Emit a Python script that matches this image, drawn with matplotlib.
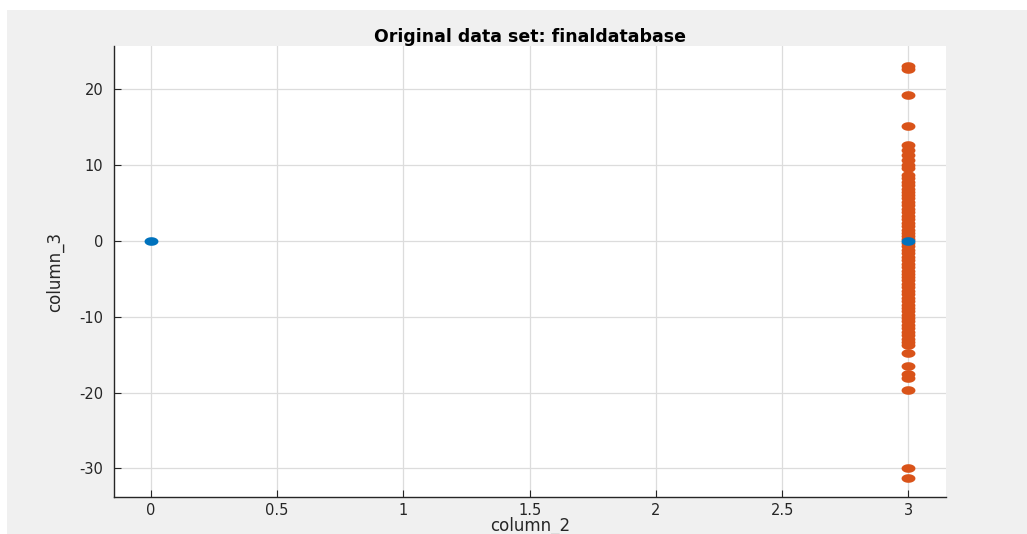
import numpy as np
import matplotlib.pyplot as plt
from matplotlib.path import Path
from matplotlib.patches import Rectangle

plt.rcParams['font.family'] = ['DejaVu Sans']
plt.rcParams['axes.unicode_minus'] = False

# group 1 (orange): all at column_2 = 3
orange_x = 3
orange_y = [23.0, 22.6, 19.3, 15.1,
            12.7, 12.0, 11.3, 10.7, 10.0, 9.6,
            8.7, 8.3, 7.8, 7.4, 6.9, 6.5, 6.0, 5.6, 5.1, 4.7, 4.2, 3.8,
            3.3, 2.9, 2.4, 2.0, 1.5, 1.1, 0.6, 0.2, -0.3, -0.7, -1.2, -1.6,
            -2.1, -2.5, -3.0, -3.4, -3.9, -4.3, -4.8, -5.2, -5.7, -6.1, -6.6,
            -7.0, -7.5, -7.9, -8.4, -8.8, -9.3, -9.7, -10.2, -10.6, -11.1,
            -11.5, -12.0, -12.4, -12.9, -13.3, -13.7,
            -14.8, -16.5, -17.5, -18.1, -19.7, -30.0, -31.2]
# group 0 (blue)
blue_x = [0, 3]
blue_y = [0, 0]

xticks = [0, 0.5, 1, 1.5, 2, 2.5, 3]
xticklabels = ['0', '0.5', '1', '1.5', '2', '2.5', '3']
yticks = [-30, -20, -10, 0, 10, 20]

# flat dots like the stretched screenshot
t = np.linspace(0, 2 * np.pi, 40)
dot = Path(np.column_stack([np.cos(t), 0.62 * np.sin(t)]), closed=True)

fig = plt.figure(figsize=(10.27, 5.34), dpi=100, facecolor='#f0f0f0')
fig.patches.append(Rectangle((0, 0), 1, 1, transform=fig.transFigure, facecolor='white',
                             edgecolor='none', zorder=-10))
fig.patches.append(Rectangle((7 / 1027, 0), 1, 1 - 10 / 534, transform=fig.transFigure,
                             facecolor='#f0f0f0', edgecolor='none', zorder=-9))

ax = fig.add_axes([0.1113, 0.0687, 0.81, 0.8452])
ax.scatter(np.full(len(orange_y), orange_x), orange_y, s=100, marker=dot,
           color='#d95319', linewidths=0, zorder=3)
ax.scatter(blue_x, blue_y, s=100, marker=dot, color='#0072bd', linewidths=0, zorder=4)

ax.set_xlim(-0.145, 3.15)
ax.set_ylim(-33.8, 25.7)
ax.set_xticks(xticks)
ax.set_xticklabels(xticklabels)
ax.set_yticks(yticks)
ax.grid(True, color='#dcdcdc', linewidth=0.9)
ax.set_axisbelow(True)
for s in ['top', 'right']:
    ax.spines[s].set_visible(False)
for s in ['left', 'bottom']:
    ax.spines[s].set_color('#262626')
    ax.spines[s].set_linewidth(1.0)
ax.tick_params(direction='in', length=5, colors='#262626', labelsize=10.5)
ax.tick_params(axis='x', pad=4)
ax.tick_params(axis='y', pad=8)

ax.set_title('Original data set: finaldatabase', fontsize=12.5, fontweight='bold',
             color='#000000', pad=3)
ax.set_xlabel('column_2', fontsize=12, color='#262626', labelpad=-1)
ax.set_ylabel('column_3', fontsize=12, color='#262626', labelpad=11)

fig.savefig('out.png', dpi=100, facecolor=fig.get_facecolor())
